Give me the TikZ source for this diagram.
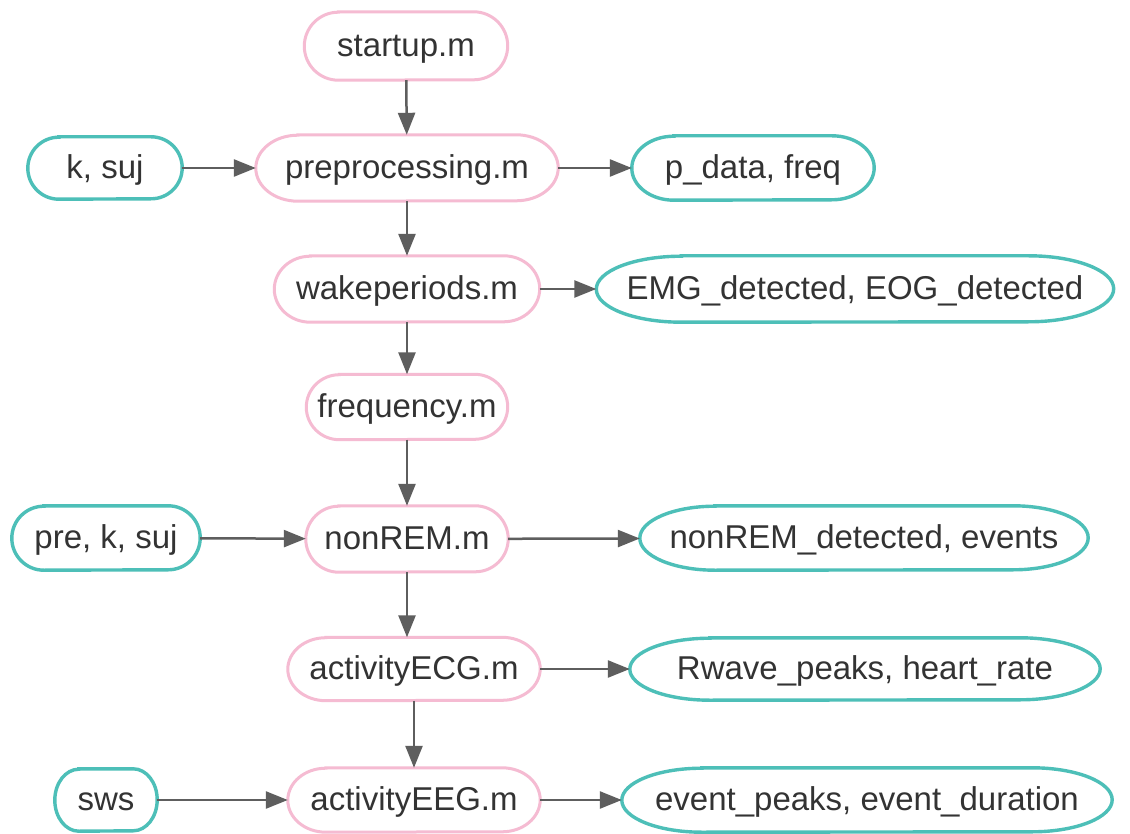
\documentclass[tikz,border=0pt]{standalone}
\usepackage{fontspec}
\setmainfont{Liberation Sans}
\usetikzlibrary{arrows.meta}
\definecolor{pinkline}{HTML}{F5BBD2}
\definecolor{tealline}{HTML}{4DBFB8}
\definecolor{arrowgray}{HTML}{5E5E5E}
\definecolor{textgray}{HTML}{333333}

% capsule outline around a (borderless) rectangular node:
% #1 node name, #2 end-cap x radius, #3 half height, #4 style
\newcommand{\capsule}[4]{%
  \draw[#4] ([xshift=#2]#1.north west) -- ([xshift=-#2]#1.north east)
    arc[start angle=90,end angle=-90,x radius=#2,y radius=#3]
    -- ([xshift=#2]#1.south west)
    arc[start angle=270,end angle=90,x radius=#2,y radius=#3] -- cycle;}

\begin{document}
\begin{tikzpicture}[x=1pt,y=-1pt,
  box/.style={inner sep=0pt,text=textgray,
    font=\fontsize{33}{40}\selectfont,text height=26pt,text depth=5pt},
  prog/.style={line width=3pt,draw=pinkline},
  data/.style={line width=3.4pt,draw=tealline},
  flow/.style={line width=2.5pt,draw=arrowgray,
    -{Triangle[length=22pt,width=17pt]}}]
\useasboundingbox[fill=white] (0,0) rectangle (1130,834);

% scripts (pink)
\node[box,minimum width=203pt,minimum height=68pt] (start) at (406,46) {startup.m};
\node[box,minimum width=302pt,minimum height=66pt] (prep)  at (407,168) {preprocessing.m};
\node[box,minimum width=265pt,minimum height=66pt] (wake)  at (407,289) {wakeperiods.m};
\node[box,minimum width=201pt,minimum height=65pt] (freq)  at (407,407) {frequency.m};
\node[box,minimum width=202pt,minimum height=66pt] (nrem)  at (407,539) {nonREM.m};
\node[box,minimum width=252pt,minimum height=63pt] (ecg)   at (414,669) {activityECG.m};
\node[box,minimum width=252pt,minimum height=64pt] (eeg)   at (414,800) {activityEEG.m};

% inputs and outputs (teal)
\node[box,minimum width=154pt,minimum height=62pt] (ksuj)  at (105,168) {k, suj};
\node[box,minimum width=242pt,minimum height=64pt] (pdata) at (753,168) {p\_data, freq};
\node[box,minimum width=517pt,minimum height=66pt] (emg)   at (855,289) {EMG\_detected, EOG\_detected};
\node[box,minimum width=188pt,minimum height=64pt] (pks)   at (106,538) {pre, k, suj};
\node[box,minimum width=448pt,minimum height=64pt] (nrdet) at (864,538) {nonREM\_detected, events};
\node[box,minimum width=470pt,minimum height=62pt] (rwave) at (865,669) {Rwave\_peaks, heart\_rate};
\node[box,minimum width=102pt,minimum height=62pt] (sws)   at (106,800) {sws};
\node[box,minimum width=490pt,minimum height=64pt] (evt)   at (867,800) {event\_peaks, event\_duration};

% outlines
\capsule{start}{34pt}{34pt}{prog}
\capsule{prep}{42pt}{33pt}{prog}
\capsule{wake}{36pt}{33pt}{prog}
\capsule{freq}{33pt}{32.5pt}{prog}
\capsule{nrem}{33pt}{33pt}{prog}
\capsule{ecg}{38pt}{31.5pt}{prog}
\capsule{eeg}{38pt}{32pt}{prog}
\capsule{ksuj}{31pt}{31pt}{data}
\capsule{pdata}{42pt}{32pt}{data}
\capsule{emg}{85pt}{33pt}{data}
\capsule{pks}{32pt}{32pt}{data}
\capsule{nrdet}{75pt}{32pt}{data}
\capsule{rwave}{80pt}{31pt}{data}
\capsule{sws}{24pt}{31pt}{data}
\capsule{evt}{80pt}{32pt}{data}

% connectors
\draw[flow] (start) -- (prep);
\draw[flow] (ksuj) -- (prep);
\draw[flow] (prep) -- (pdata);
\draw[flow] (prep) -- (wake);
\draw[flow] (wake) -- (emg);
\draw[flow] (wake) -- (freq);
\draw[flow] (freq) -- (nrem);
\draw[flow] (pks) -- (nrem);
\draw[flow] (nrem) -- (nrdet);
\draw[flow] (nrem.south) -- (nrem.south |- ecg.north);
\draw[flow] (ecg) -- (rwave);
\draw[flow] (ecg) -- (eeg);
\draw[flow] (sws) -- (eeg);
\draw[flow] (eeg) -- (evt);
\end{tikzpicture}
\end{document}
